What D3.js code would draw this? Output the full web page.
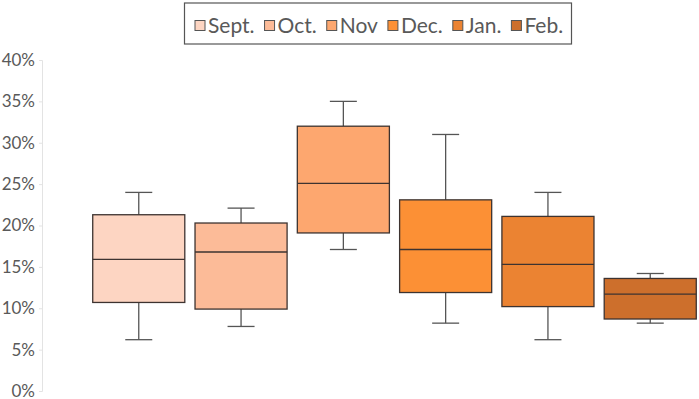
<!DOCTYPE html>
<html>
<head>
<meta charset="utf-8">
<script src="https://cdn.jsdelivr.net/npm/d3@7"></script>
<style>
  body { margin: 0; background: #fff; }
  text { font-family: Lato, "Open Sans", sans-serif; fill: #595959; }
</style>
</head>
<body>
<svg id="chart" width="699" height="399"></svg>
<script>
// months and box stats (fractions)
const months = ["Sept.", "Oct.", "Nov", "Dec.", "Jan.", "Feb."];
const lows    = [0.062, 0.078, 0.171, 0.082, 0.062, 0.082];
const q1s     = [0.107, 0.099, 0.191, 0.119, 0.102, 0.087];
const medians = [0.159, 0.168, 0.251, 0.171, 0.153, 0.117];
const q3s     = [0.213, 0.203, 0.320, 0.231, 0.211, 0.136];
const highs   = [0.240, 0.221, 0.350, 0.310, 0.240, 0.142];
const colors  = ["#fdd5c2", "#fcbb98", "#fda76f", "#fc9035", "#eb8332", "#cd6f2c"];
const yTicks  = [0, 0.05, 0.10, 0.15, 0.20, 0.25, 0.30, 0.35, 0.40];

const svg = d3.select('#chart');

const y = d3.scaleLinear().domain([0, 0.40]).range([391, 60]);
const x = d3.scaleBand().domain(months).range([82.5, 706.5]).padding(0.1);

// y axis
const yAxis = svg.append('g')
  .attr('transform', 'translate(42,0)')
  .call(d3.axisLeft(y).tickValues(yTicks).tickFormat(d3.format('.0%')).tickSize(3).tickPadding(4));
yAxis.select('.domain').attr('stroke', '#e3e3e3');
yAxis.selectAll('.tick line').attr('stroke', '#e3e3e3');
yAxis.selectAll('.tick text')
  .style('font-size', '17px')
  .style('font-family', 'Lato, sans-serif')
  .attr('dy', '0.32em')
  .attr('fill', '#595959');

const data = months.map((m, i) => ({
  m, lo: lows[i], q1: q1s[i], med: medians[i], q3: q3s[i], hi: highs[i], c: colors[i]
}));

const capW = 27;
const g = svg.append('g');
const box = g.selectAll('g.box').data(data).enter().append('g').attr('class', 'box');
const cx = d => x(d.m) + x.bandwidth() / 2;

// whiskers
box.append('line')
  .attr('x1', cx).attr('x2', cx)
  .attr('y1', d => y(d.hi)).attr('y2', d => y(d.q3))
  .attr('stroke', '#555').attr('stroke-width', 1.3);
box.append('line')
  .attr('x1', cx).attr('x2', cx)
  .attr('y1', d => y(d.q1)).attr('y2', d => y(d.lo))
  .attr('stroke', '#555').attr('stroke-width', 1.3);
box.append('line')
  .attr('x1', d => cx(d) - capW / 2).attr('x2', d => cx(d) + capW / 2)
  .attr('y1', d => y(d.hi)).attr('y2', d => y(d.hi))
  .attr('stroke', '#555').attr('stroke-width', 1.3);
box.append('line')
  .attr('x1', d => cx(d) - capW / 2).attr('x2', d => cx(d) + capW / 2)
  .attr('y1', d => y(d.lo)).attr('y2', d => y(d.lo))
  .attr('stroke', '#555').attr('stroke-width', 1.3);

// boxes
box.append('rect')
  .attr('x', d => x(d.m)).attr('width', x.bandwidth())
  .attr('y', d => y(d.q3)).attr('height', d => y(d.q1) - y(d.q3))
  .attr('fill', d => d.c).attr('stroke', '#3d3330').attr('stroke-width', 1.3);
box.append('line')
  .attr('x1', d => x(d.m)).attr('x2', d => x(d.m) + x.bandwidth())
  .attr('y1', d => y(d.med)).attr('y2', d => y(d.med))
  .attr('stroke', '#3d3330').attr('stroke-width', 1.3);

// legend
const legend = svg.append('g');
legend.append('rect')
  .attr('x', 184.5).attr('y', 3).attr('width', 387).attr('height', 41)
  .attr('fill', '#fff').attr('stroke', '#555').attr('stroke-width', 1.2);
let lx = 195;
data.forEach(d => {
  legend.append('rect')
    .attr('x', lx).attr('y', 20.5).attr('width', 10).attr('height', 10)
    .attr('fill', d.c).attr('stroke', '#555').attr('stroke-width', 1);
  const t = legend.append('text')
    .attr('x', lx + 13).attr('y', 32.5)
    .style('font-size', '21px')
    .text(d.m);
  lx += 13 + t.node().getComputedTextLength() + 10;
});
</script>
</body>
</html>
